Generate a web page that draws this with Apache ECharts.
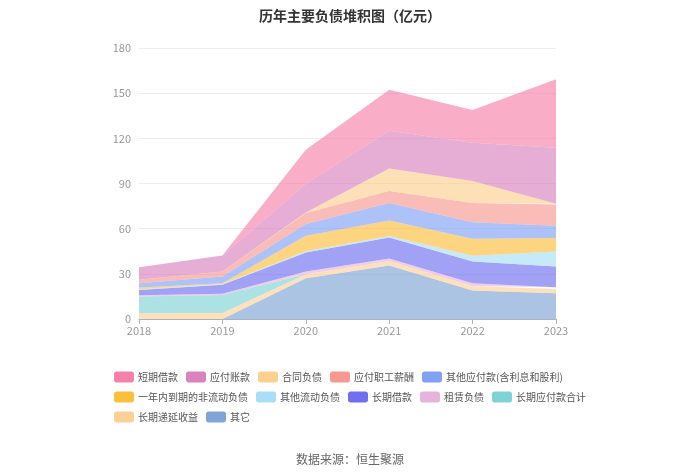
<!DOCTYPE html>
<html>
<head>
<meta charset="utf-8">
<script src="https://cdn.jsdelivr.net/npm/echarts@6/dist/echarts.min.js"></script>
<style>
  html, body { margin: 0; padding: 0; background: #fff; }
  #chart { width: 700px; height: 473px; }
</style>
</head>
<body>
<div id="chart"></div>
<script>
const years = ["2018", "2019", "2020", "2021", "2022", "2023"];

// values in 亿元, stacked bottom -> top
const qita = [0, 0, 27.1, 35.5, 18.9, 17.1];              // 其它
const changqiDiyan = [3.8, 4, 2.7, 3, 3.1, 2.9];          // 长期递延收益
const changqiYingfu = [11.1, 12, 0, 0, 0, 0];             // 长期应付款合计
const zulin = [0.9, 0.7, 1.8, 1.7, 1.8, 1.1];             // 租赁负债
const changqiJiekuan = [3.5, 6, 12.6, 14, 14.4, 13.8];    // 长期借款
const qitaLiudong = [0.5, 0.5, 0.8, 0.9, 3.8, 10];        // 其他流动负债
const yinian = [1.2, 0.6, 10.3, 10.4, 11.3, 8.9];         // 一年内到期的非流动负债
const qitaYingfu = [2.8, 4.4, 7.8, 11.5, 10.9, 8.2];      // 其他应付款(含利息和股利)
const zhigong = [2.2, 3.4, 7.3, 8, 12.9, 14];             // 应付职工薪酬
const hetong = [0, 0, 0.3, 15, 14.5, 0.5];                // 合同负债
const yingfuZhang = [8.4, 10.6, 19.1, 25, 25.5, 37.3];    // 应付账款
const duanqi = [0, 0, 22.7, 27.2, 21.8, 45.5];            // 短期借款

const legendOrder = ["短期借款", "应付账款", "合同负债", "应付职工薪酬", "其他应付款(含利息和股利)",
  "一年内到期的非流动负债", "其他流动负债", "长期借款", "租赁负债", "长期应付款合计", "长期递延收益", "其它"];

const stackList = [
  ["其它", qita, "#7fa5d6"],
  ["长期递延收益", changqiDiyan, "#fdd196"],
  ["长期应付款合计", changqiYingfu, "#7fd3d5"],
  ["租赁负债", zulin, "#e6b3dc"],
  ["长期借款", changqiJiekuan, "#6f6ff0"],
  ["其他流动负债", qitaLiudong, "#a9def8"],
  ["一年内到期的非流动负债", yinian, "#fcbf3c"],
  ["其他应付款(含利息和股利)", qitaYingfu, "#7fa2f5"],
  ["应付职工薪酬", zhigong, "#f79891"],
  ["合同负债", hetong, "#fdd08f"],
  ["应付账款", yingfuZhang, "#d982be"],
  ["短期借款", duanqi, "#f681a8"]
];

const chart = echarts.init(document.getElementById("chart"));
chart.setOption({
  animation: false,
  textStyle: { fontFamily: "'Noto Sans CJK SC', sans-serif" },
  title: [
    { text: "历年主要负债堆积图（亿元）", left: "center", top: 4,
      textStyle: { fontSize: 14, fontWeight: "bold", color: "#333" } },
    { text: "数据来源：恒生聚源", left: "center", top: 448,
      textStyle: { fontSize: 12, fontWeight: "normal", color: "#666" } }
  ],
  legend: {
    data: legendOrder.map(name => ({ name, icon: "roundRect" })),
    left: 109, top: 366, width: 500,
    itemWidth: 20, itemHeight: 11, itemGap: 8,
    textStyle: { fontSize: 10, lineHeight: 12, color: "#555", padding: [0, 0, 0, -1] }
  },
  grid: { left: 139, right: 144, top: 48, bottom: 154 },
  xAxis: {
    type: "category", boundaryGap: false, data: years,
    axisLine: { lineStyle: { color: "#aab3c2" } },
    axisTick: { show: true, alignWithLabel: true, lineStyle: { color: "#aab3c2" } },
    axisLabel: { color: "#999", fontSize: 11, margin: 6 }
  },
  yAxis: {
    type: "value", min: 0, max: 180, interval: 30,
    axisLine: { show: false }, axisTick: { show: false },
    axisLabel: { color: "#999", fontSize: 11 },
    splitLine: { lineStyle: { color: "#ececf0" } }
  },
  series: stackList.map(([name, vals, color]) => ({
    name, type: "line", stack: "total", data: vals,
    color, symbol: "none",
    lineStyle: { width: 0 },
    areaStyle: { color, opacity: 0.65 }
  }))
});
</script>
</body>
</html>
